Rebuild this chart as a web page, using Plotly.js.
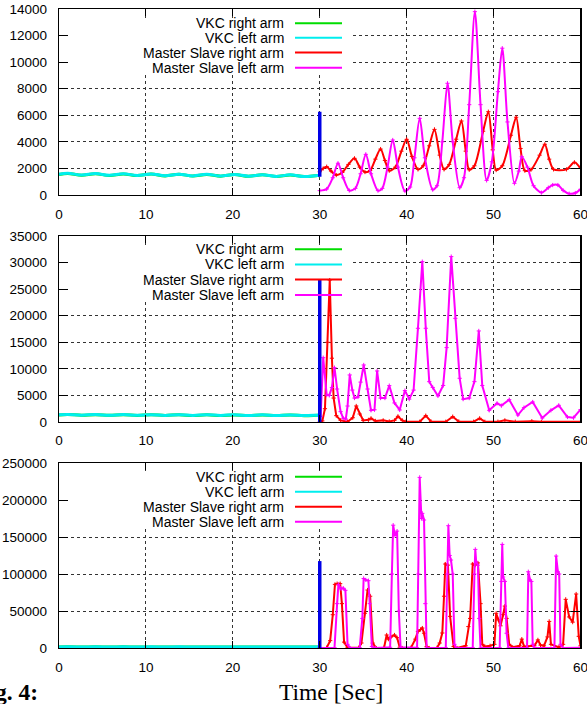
<!DOCTYPE html>
<html>
<head>
<meta charset="utf-8">
<script src="https://cdn.plot.ly/plotly-3.0.1.min.js"></script>
<style>
html,body{margin:0;padding:0;background:#fff;}
#chart{width:587px;height:704px;}
</style>
</head>
<body>
<div id="chart"></div>
<script>
// ---------------- DATA ----------------
const legendLabels = ['VKC right arm', 'VKC left arm', 'Master Slave right arm', 'Master Slave left arm'];
const xTickVals = [0, 10, 20, 30, 40, 50, 60];

// VKC phase (0-30 s), shared time stamps
const tVkc = [0, 1.0, 2.6, 4.2, 5.8, 7.4, 9.0, 10.6, 12.2, 13.8, 15.4, 17.0, 18.6, 20.2, 21.8, 23.4, 25.0, 26.6, 28.2, 29.8, 30];
const vkcRightTop = [1540, 1620, 1490, 1600, 1470, 1590, 1460, 1580, 1440, 1560, 1430, 1550, 1420, 1540, 1410, 1520, 1400, 1510, 1390, 1460, 1440];
const vkcLeftTop  = [1560, 1640, 1500, 1610, 1480, 1600, 1470, 1590, 1450, 1570, 1440, 1560, 1430, 1550, 1420, 1530, 1400, 1520, 1390, 1470, 1450];
const vkcRightMid = [1330, 1400, 1270, 1380, 1250, 1370, 1240, 1360, 1230, 1350, 1220, 1340, 1220, 1330, 1210, 1320, 1200, 1310, 1190, 1270, 1260];
const vkcLeftMid  = [1350, 1420, 1280, 1400, 1260, 1390, 1250, 1380, 1240, 1370, 1230, 1360, 1230, 1350, 1220, 1340, 1210, 1330, 1200, 1280, 1270];
const vkcRightBot = [1500, 1600, 1450, 1580, 1440, 1570, 1430, 1560, 1420, 1550, 1410, 1540, 1400, 1530, 1390, 1520, 1380, 1510, 1370, 1460, 1450];
const vkcLeftBot  = [1520, 1620, 1460, 1600, 1450, 1590, 1440, 1580, 1430, 1570, 1420, 1560, 1410, 1550, 1400, 1540, 1390, 1530, 1380, 1480, 1470];

// blue switch marker at t = 30 s
const blueX = [30, 30];
const blueTop = [1380, 6270];
const blueMid = [0, 26700];
const blueBot = [0, 117500];

// Master Slave, top panel
const msRightTopX = [30, 30.4, 30.8, 31.3, 31.9, 32.6, 33.3, 34.0, 34.6, 35.2, 35.8, 36.4, 37.0, 37.5, 38.0, 38.7, 39.4, 40.0, 40.6, 41.3, 41.9, 42.6, 43.2, 43.8, 44.3, 44.9, 45.7, 46.3, 46.8, 47.2, 47.8, 48.8, 49.4, 49.9, 50.3, 51.0, 52.0, 52.6, 53.1, 53.6, 54.3, 55.3, 55.9, 56.4, 56.9, 58.4, 59.3, 60];
const msRightTopY = [1750, 2000, 2130, 1800, 1500, 1700, 2300, 2760, 2100, 1730, 1850, 2700, 3460, 2600, 1830, 2100, 3300, 4190, 2900, 1930, 2200, 3700, 4940, 3000, 1930, 2300, 4200, 5570, 3300, 1900, 2200, 4800, 6270, 3400, 1880, 2200, 4500, 5850, 3500, 1830, 1900, 3000, 3820, 2700, 1930, 1930, 2460, 2010];
const msLeftTopX = [30, 30.8, 31.5, 32.1, 32.7, 33.4, 34.1, 34.7, 35.3, 35.9, 36.7, 37.2, 37.8, 38.4, 39.0, 39.8, 40.4, 40.9, 41.5, 42.1, 43.0, 43.5, 44.1, 44.7, 45.3, 46.1, 46.6, 47.2, 47.85, 48.5, 49.2, 49.8, 50.5, 51.0, 51.6, 52.4, 52.9, 53.25, 53.9, 54.6, 55.5, 56.3, 56.8, 57.4, 58.0, 58.7, 59.4, 60];
const msLeftTopY = [330, 450, 1300, 2390, 1300, 340, 500, 1600, 3060, 1600, 330, 500, 2100, 4140, 2100, 300, 600, 2800, 5770, 2800, 400, 700, 4000, 8410, 4000, 550, 1300, 6800, 13800, 6800, 1100, 2500, 7780, 11050, 5500, 880, 1800, 2880, 2100, 700, 180, 550, 750, 750, 350, 100, 150, 430];

// Master Slave, middle panel
const msRightMidX = [30, 30.3, 30.6, 30.9, 31.15, 31.4, 31.6, 31.9, 32.4, 33.2, 33.8, 34.2, 34.6, 35.0, 35.6, 35.9, 36.4, 37.3, 38.0, 38.6, 39.0, 39.5, 39.9, 41.5, 42.2, 42.8, 44.5, 45.3, 46.0, 47.7, 48.4, 49.0, 50.5, 51.3, 52.5, 54.4, 55.5, 60];
const msRightMidY = [0, 200, 2500, 15000, 26700, 12000, 4500, 1190, 300, 50, 800, 3010, 1500, 300, 400, 690, 200, 300, 100, 300, 1060, 300, 50, 50, 1190, 100, 50, 1000, 100, 50, 690, 50, 50, 300, 50, 150, 30, 50];
const msLeftMidX = [30.1, 30.4, 30.8, 31.1, 31.4, 31.7, 32.0, 32.4, 32.7, 33.0, 33.2, 33.45, 33.75, 34.0, 34.4, 34.7, 35.06, 35.5, 35.9, 36.3, 36.6, 37.0, 37.5, 38.0, 38.6, 39.2, 39.8, 40.3, 40.8, 41.3, 41.8, 42.2, 42.6, 43.0, 43.6, 44.2, 44.6, 45.13, 45.6, 46.1, 46.5, 47.2, 47.8, 48.3, 48.7, 49.5, 50.4, 50.9, 51.8, 52.8, 53.5, 54.5, 55.6, 56.6, 57.5, 58.5, 59.2, 60];
const msLeftMidY = [1000, 12100, 5080, 5000, 6500, 10220, 6200, 1940, 700, 560, 3000, 8850, 6000, 4500, 4700, 7500, 10730, 6200, 2200, 2300, 9600, 4500, 4500, 6840, 3580, 2260, 5900, 4300, 6000, 17630, 30170, 17630, 7590, 6500, 4900, 6870, 14000, 31120, 19500, 8220, 4300, 4500, 7590, 17130, 6870, 2200, 3510, 3070, 4200, 1310, 2700, 3760, 750, 2200, 3130, 940, 800, 2320];

// Master Slave, bottom panel
const msRightBotX = [30, 30.8, 31.2, 31.5, 31.75, 32.0, 32.35, 32.55, 32.8, 33.2, 34.5, 34.8, 35.2, 35.5, 35.8, 36.1, 36.5, 37.4, 37.7, 37.9, 38.2, 38.6, 38.9, 39.2, 39.5, 40.5, 41.0, 41.3, 41.6, 41.8, 42.0, 42.3, 42.6, 43.5, 43.8, 44.1, 44.3, 44.45, 44.75, 45.0, 45.4, 45.8, 46.8, 47.1, 47.3, 47.6, 47.9, 48.2, 48.5, 48.7, 49.0, 49.6, 50.1, 50.3, 50.55, 50.8, 51.1, 51.3, 51.5, 51.8, 52.2, 53.0, 53.25, 53.5, 54.7, 55.1, 55.4, 55.8, 56.2, 56.4, 56.6, 57.5, 58.0, 58.3, 58.7, 59.1, 59.5, 59.8, 60];
const msRightBotY = [0, 500, 10000, 45000, 86000, 87000, 87000, 60000, 8000, 500, 500, 6800, 47000, 78400, 70000, 6700, 0, 500, 17600, 12000, 15000, 17600, 14000, 1000, 0, 500, 12000, 22500, 25000, 27000, 20000, 2000, 0, 500, 6800, 20300, 70000, 113500, 112000, 42800, 2000, 0, 3000, 29000, 40000, 113500, 112000, 115000, 60000, 5000, 2000, 3000, 5000, 47000, 38000, 30000, 45000, 56700, 40000, 5000, 1000, 3000, 12000, 2000, 3000, 11000, 4000, 3000, 15000, 36000, 5000, 1000, 5000, 65800, 42000, 35000, 73000, 15800, 3000];
const msLeftBotX = [30, 31.7, 32.0, 32.15, 32.45, 32.7, 32.95, 33.2, 33.5, 34.6, 34.9, 35.05, 35.3, 35.6, 35.75, 36.0, 36.4, 38.1, 38.3, 38.45, 38.65, 38.9, 39.1, 39.3, 41.2, 41.35, 41.5, 41.7, 41.8, 42.0, 42.15, 42.3, 44.5, 44.7, 44.8, 44.95, 45.1, 45.3, 45.5, 45.7, 47.6, 47.8, 47.9, 48.0, 48.2, 48.35, 48.5, 50.7, 50.9, 51.0, 51.1, 51.3, 51.5, 51.7, 53.85, 54.0, 54.2, 54.35, 54.5, 54.7, 57.0, 57.2, 57.4, 57.55, 57.7, 58.0, 60];
const msLeftBotY = [0, 500, 60000, 86000, 80000, 81000, 78000, 5000, 0, 500, 40000, 94000, 92000, 91000, 60000, 2000, 0, 1000, 100000, 166000, 152000, 158000, 50000, 1000, 500, 100000, 230600, 175000, 182000, 173000, 60000, 0, 500, 100000, 165300, 125000, 118900, 100000, 5000, 0, 500, 100000, 133300, 116600, 112000, 40000, 0, 500, 90000, 140000, 96000, 90000, 20000, 0, 500, 103100, 92000, 90000, 5000, 0, 500, 124300, 103100, 100000, 5000, 0, 500];

// ---------------- STYLE ----------------
const C_GREEN = '#00dd00', C_CYAN = '#00eeee', C_RED = '#ff0000', C_MAG = '#ff00ff', C_BLUE = '#0000e6';
const tickFont = {family: 'Liberation Sans, Arial, sans-serif', size: 13.5, color: '#000'};
const legFont = {family: 'Liberation Sans, Arial, sans-serif', size: 14, color: '#000'};

const panels = [
  {xa: 'x', ya: 'y', vr: vkcRightTop, vl: vkcLeftTop, blue: blueTop, rx: msRightTopX, ry: msRightTopY, lx: msLeftTopX, ly: msLeftTopY, shape: 'spline'},
  {xa: 'x2', ya: 'y2', vr: vkcRightMid, vl: vkcLeftMid, blue: blueMid, rx: msRightMidX, ry: msRightMidY, lx: msLeftMidX, ly: msLeftMidY, shape: 'linear'},
  {xa: 'x3', ya: 'y3', vr: vkcRightBot, vl: vkcLeftBot, blue: blueBot, rx: msRightBotX, ry: msRightBotY, lx: msLeftBotX, ly: msLeftBotY, shape: 'linear'}
];

const traces = [];
panels.forEach(p => {
  traces.push({x: tVkc, y: p.vr, xaxis: p.xa, yaxis: p.ya, mode: 'lines', line: {color: C_GREEN, width: 3, shape: 'spline'}, showlegend: false});
  traces.push({x: tVkc, y: p.vl, xaxis: p.xa, yaxis: p.ya, mode: 'lines', line: {color: C_CYAN, width: 3, shape: 'spline'}, showlegend: false});
  traces.push({x: p.rx, y: p.ry, xaxis: p.xa, yaxis: p.ya, mode: 'lines+markers', line: {color: C_RED, width: 2, shape: p.shape, smoothing: 0.8},
    marker: {symbol: 'cross-thin', size: 3, line: {color: C_RED, width: 1}}, showlegend: false});
  traces.push({x: p.lx, y: p.ly, xaxis: p.xa, yaxis: p.ya, mode: 'lines+markers', line: {color: C_MAG, width: 2, shape: p.shape, smoothing: 0.8},
    marker: {symbol: 'cross-thin', size: 3, line: {color: C_MAG, width: 1}}, showlegend: false});
  traces.push({x: blueX, y: p.blue, xaxis: p.xa, yaxis: p.ya, mode: 'lines', line: {color: C_BLUE, width: 3.5}, showlegend: false});
});

function xAxis(anchor) {
  return {domain: [0.1005, 0.9889], range: [0, 60], tickvals: xTickVals, anchor: anchor,
    showline: true, linecolor: '#000', linewidth: 1.3, mirror: 'ticks', ticks: 'inside', ticklen: 7, tickwidth: 1, tickcolor: '#000',
    showgrid: true, gridcolor: '#333', griddash: 'dot', gridwidth: 1, zeroline: false, tickfont: tickFont,
    ticklabelstandoff: 6, ticklabeloverflow: 'allow', automargin: false, fixedrange: true};
}
function yAxis(anchor, domain, max, dtick) {
  return {domain: domain, range: [0, max], dtick: dtick, tick0: 0, anchor: anchor,
    showline: true, linecolor: '#000', linewidth: 1.3, mirror: 'ticks', ticks: 'inside', ticklen: 9, tickwidth: 1, tickcolor: '#000',
    showgrid: true, gridcolor: '#333', griddash: 'dot', gridwidth: 1, zeroline: false, tickfont: tickFont,
    exponentformat: 'none', separatethousands: false, tickformat: 'd',
    ticklabelstandoff: 8, ticklabeloverflow: 'allow', automargin: false, fixedrange: true};
}

// legend boxes (mask grid behind the key) and key layout
const keyBoxes = [
  {xref: 'x', yref: 'y', y0: 9100, y1: 13330},
  {xref: 'x2', yref: 'y2', y0: 22960, y1: 33300},
  {xref: 'x3', yref: 'y3', y0: 162100, y1: 239100}
];
const keyRowsPx = [[23.3, 37.8, 52.5, 67.7], [249.3, 264.4, 279.6, 295], [476.7, 491.7, 506.7, 521.7]];
const keyColors = [C_GREEN, C_CYAN, C_RED, C_MAG];
const H = 704, W = 587;

const shapes = [];
const annotations = [];
keyBoxes.forEach(b => {
  shapes.push({type: 'rect', xref: b.xref, yref: b.yref, x0: 0, x1: 33.7, y0: b.y0, y1: b.y1,
    fillcolor: '#ffffff', line: {width: 0}, layer: 'between'});
});
keyRowsPx.forEach(rows => {
  rows.forEach((py, i) => {
    const yp = 1 - py / H;
    annotations.push({xref: 'paper', yref: 'paper', x: 286 / W, y: yp, xanchor: 'right', yanchor: 'middle',
      text: legendLabels[i], showarrow: false, font: legFont});
    shapes.push({type: 'line', xref: 'paper', yref: 'paper', x0: 295 / W, x1: 342 / W, y0: yp, y1: yp,
      line: {color: keyColors[i], width: 2}, layer: 'above'});
  });
});
annotations.push({xref: 'paper', yref: 'paper', x: 331 / W, y: 1 - 692 / H, xanchor: 'center', yanchor: 'middle',
  text: 'Time [Sec]', showarrow: false, font: {family: 'Liberation Serif, Times New Roman, serif', size: 23.5, color: '#000'}});
annotations.push({xref: 'paper', yref: 'paper', x: 40 / W, y: 1 - 692 / H, xanchor: 'right', yanchor: 'middle',
  text: '<b>Fig. 4:</b>', showarrow: false, font: {family: 'Liberation Serif, Times New Roman, serif', size: 23.5, color: '#000'}});

const layout = {
  width: W, height: H, margin: {l: 0, r: 0, t: 0, b: 0, pad: 0},
  paper_bgcolor: '#fff', plot_bgcolor: '#fff', showlegend: false,
  xaxis: xAxis('y'), xaxis2: xAxis('y2'), xaxis3: xAxis('y3'),
  yaxis: yAxis('x', [0.7230, 0.9872], 14000, 2000),
  yaxis2: yAxis('x2', [0.4006, 0.6648], 35000, 5000),
  yaxis3: yAxis('x3', [0.0795, 0.3423], 250000, 50000),
  shapes: shapes, annotations: annotations
};

Plotly.newPlot('chart', traces, layout, {staticPlot: true, displayModeBar: false});
</script>
</body>
</html>
